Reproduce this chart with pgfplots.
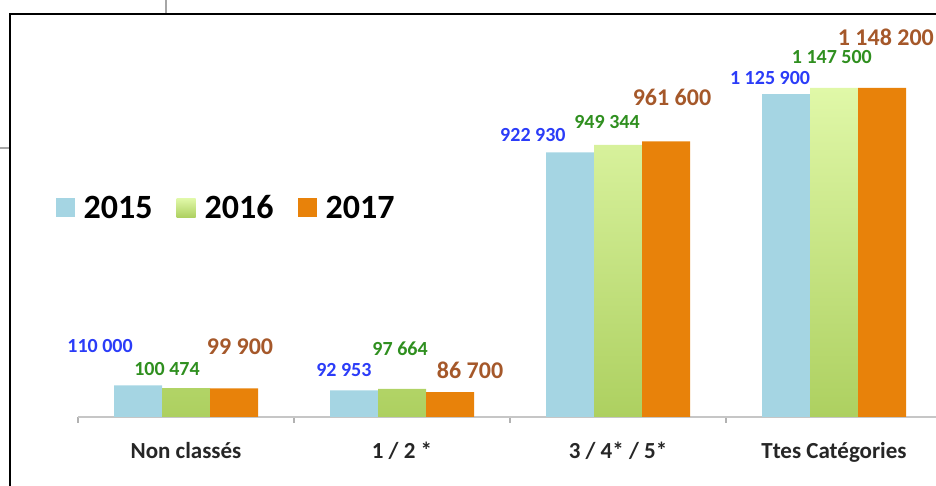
\documentclass[border=0pt]{standalone}
\usepackage{pgfplots}
\pgfplotsset{compat=1.18}
\usepackage{fontspec}
\setmainfont{Carlito}
\definecolor{c15}{HTML}{A5D5E3}
\definecolor{c16t}{HTML}{E0F8A8}
\definecolor{c16b}{HTML}{ADD060}
\definecolor{c17}{HTML}{E8820A}
\definecolor{tblue}{HTML}{2B3CF8}
\definecolor{tgreen}{HTML}{2F8F1F}
\definecolor{tbrown}{HTML}{A5582A}
\begin{document}
\begin{tikzpicture}
\useasboundingbox (0,0) rectangle (936pt,486pt);
\draw[gray!70, line width=1.2pt] (166pt,486pt) -- (166pt,472pt);
\draw[gray!70, line width=1.2pt] (0pt,338pt) -- (10pt,338pt);
\draw[black, line width=2pt] (10pt,0pt) -- (10pt,472pt) -- (940pt,472pt);
\begin{axis}[
 at={(78pt,69pt)}, anchor=south west, scale only axis, width=864pt, height=401.4pt,
 xmin=-0.5, xmax=3.5, ymin=0, ymax=1400000, enlargelimits=false,
 axis y line=none, axis x line*=bottom,
 x axis line style={draw=gray!45, line width=1.5pt, -},
 xtick={0,1,2,3},
 xticklabels={Non classés, 1 / 2 *, 3 / 4* / 5*, Ttes Catégories},
 major tick length=0pt,
 minor xtick={-0.5,0.5,1.5,2.5,3.5}, minor tick length=6pt, tick align=outside,
 minor tick style={gray!60, line width=1.2pt},
 xticklabel style={font=\bfseries\fontsize{23}{26}\selectfont, anchor=base, yshift=-42pt, text=black!85},
 ybar=0pt, bar width=48pt, clip=false,
 legend style={at={(axis description cs:-0.0295,0.5207)}, anchor=west, draw=none, fill=none,
   legend columns=3, font=\bfseries\fontsize{34}{38}\selectfont,
   nodes={inner xsep=4pt},
   /tikz/every odd column/.append style={column sep=5pt},
   /tikz/every even column/.append style={column sep=20pt}},
 legend image code/.code={\path[#1,draw=none] (0pt,-9.5pt) rectangle (19pt,9.5pt);},
]
\addplot[fill=c15, draw=none] coordinates {(0,110000) (1,92953) (2,922930) (3,1125900)};
\addplot[top color=c16t, bottom color=c16b, draw=none] coordinates {(0,100474) (1,97664) (2,949344) (3,1147500)};
\addplot[fill=c17, draw=none] coordinates {(0,99900) (1,86700) (2,961600) (3,1148200)};
\legend{2015,2016,2017}
\tikzset{lb/.style={font=\bfseries\fontsize{20}{22}\selectfont, text=tblue},
         lg/.style={font=\bfseries\fontsize{20}{22}\selectfont, text=tgreen},
         lr/.style={font=\bfseries\fontsize{24}{26}\selectfont, text=tbrown}}
\node[lb] at (axis cs:-0.398,247600) {110 000};
\node[lg] at (axis cs:-0.088,167400) {100 474};
\node[lr] at (axis cs:0.25,244200) {99 900};
\node[lb] at (axis cs:0.731,163900) {92 953};
\node[lg] at (axis cs:0.991,237200) {97 664};
\node[lr] at (axis cs:1.315,163900) {86 700};
\node[lb] at (axis cs:1.606,983600) {922 930};
\node[lg] at (axis cs:1.949,1029000) {949 344};
\node[lr] at (axis cs:2.25,1116000) {961 600};
\node[lb] at (axis cs:2.704,1182400) {1 125 900};
\node[lg] at (axis cs:2.99,1255700) {1 147 500};
\node[lr] at (axis cs:3.240,1325000) {1 148 200};
\end{axis}
\end{tikzpicture}
\end{document}
